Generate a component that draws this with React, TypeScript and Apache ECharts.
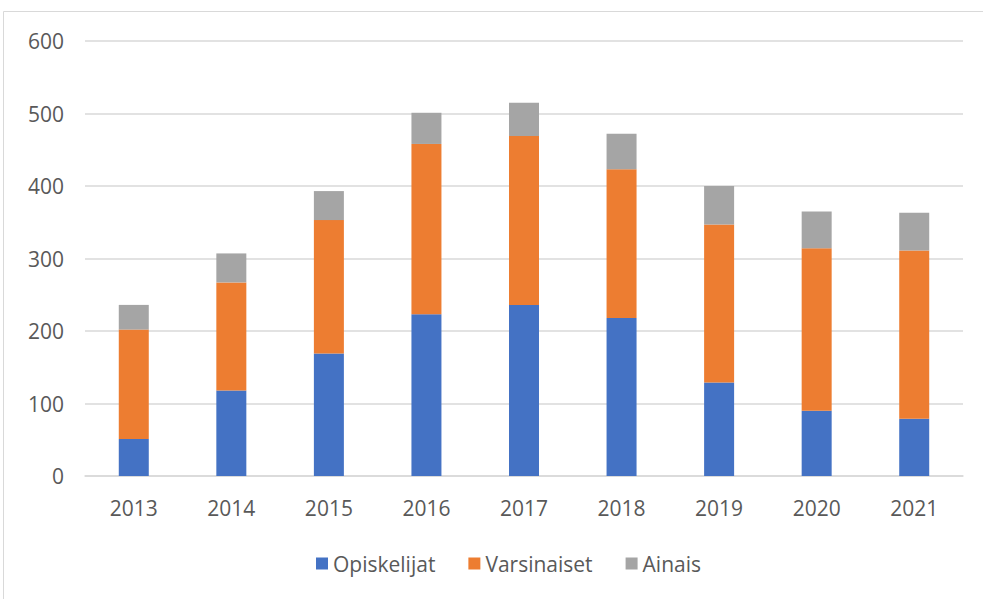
import React, { useEffect, useRef } from "react";
import * as echarts from "echarts";

const years = ["2013", "2014", "2015", "2016", "2017", "2018", "2019", "2020", "2021"];
const opiskelijat = [51, 118, 169, 223, 236, 218, 129, 90, 79];
const varsinaiset = [151, 149, 184, 235, 233, 205, 218, 224, 232];
const ainais = [34, 40, 40, 43, 46, 49, 53, 51, 52];
const seriesNames = ["Opiskelijat", "Varsinaiset", "Ainais"];
const colors = ["#4472C4", "#ED7D31", "#A5A5A5"];

const FONT = "'Open Sans', 'Noto Sans', sans-serif";

export default function App() {
  const ref = useRef<HTMLDivElement>(null);
  useEffect(() => {
    if (!ref.current) return;
    const chart = echarts.init(ref.current, undefined, { renderer: "svg" });
    const data = [opiskelijat, varsinaiset, ainais];
    chart.setOption({
      animation: false,
      backgroundColor: "#ffffff",
      textStyle: { fontFamily: FONT },
      graphic: [
        {
          type: "rect",
          shape: { x: 3.5, y: 11.5, width: 990, height: 600 },
          style: { fill: "none", stroke: "#d9d9d9", lineWidth: 1 },
          silent: true,
        },
      ],
      grid: { left: 85, right: 20, top: 41, bottom: 123, containLabel: false },
      legend: {
        data: seriesNames,
        top: 548,
        left: 311,
        itemWidth: 12,
        itemHeight: 12,
        itemGap: 33,
        icon: "rect",
        textStyle: { fontSize: 21, color: "#595959", fontFamily: FONT },
      },
      xAxis: {
        type: "category",
        data: years,
        axisLine: { show: true, lineStyle: { color: "#d9d9d9", width: 1.5 } },
        axisTick: { show: false },
        axisLabel: { color: "#595959", fontSize: 21, margin: 21, fontFamily: FONT },
      },
      yAxis: {
        type: "value",
        min: 0,
        max: 600,
        interval: 100,
        axisLine: { show: false },
        axisTick: { show: false },
        splitLine: { lineStyle: { color: "#d9d9d9", width: 1.5 } },
        axisLabel: { color: "#595959", fontSize: 21, margin: 21, fontFamily: FONT },
      },
      series: seriesNames.map((name, i) => ({
        name,
        type: "bar",
        stack: "total",
        data: data[i],
        barWidth: 30,
        itemStyle: { color: colors[i] },
      })),
    });
    return () => chart.dispose();
  }, []);
  return (
    <div
      ref={ref}
      style={{ position: "fixed", left: 0, top: 0, width: 983, height: 599, background: "#fff" }}
    />
  );
}
